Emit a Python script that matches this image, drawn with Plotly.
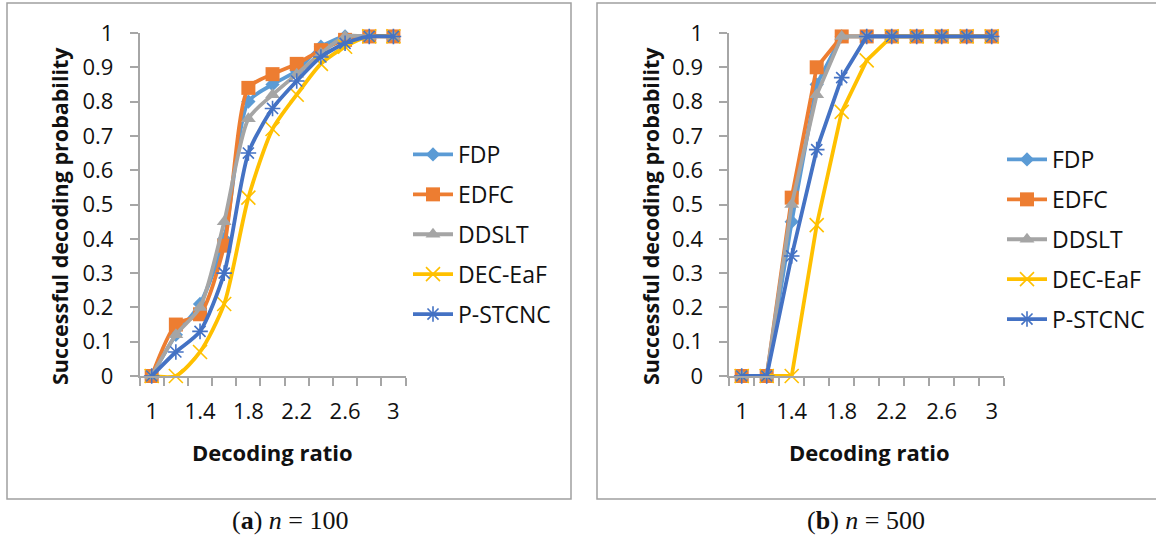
import plotly.graph_objects as go

# ---------------- data ----------------
ratios = [1.0, 1.2, 1.4, 1.6, 1.8, 2.0, 2.2, 2.4, 2.6, 2.8, 3.0]
tick_vals = [1.0, 1.4, 1.8, 2.2, 2.6, 3.0]
tick_text = ["1", "1.4", "1.8", "2.2", "2.6", "3"]
y_tick_vals = [0, 0.1, 0.2, 0.3, 0.4, 0.5, 0.6, 0.7, 0.8, 0.9, 1.0]
y_tick_text = ["0", "0.1", "0.2", "0.3", "0.4", "0.5", "0.6", "0.7", "0.8", "0.9", "1"]
series_names = ["FDP", "EDFC", "DDSLT", "DEC-EaF", "P-STCNC"]

# n = 100
fdp_100 = [0, 0.12, 0.21, 0.40, 0.80, 0.85, 0.89, 0.96, 0.99, 0.99, 0.99]
edfc_100 = [0, 0.15, 0.18, 0.38, 0.84, 0.88, 0.91, 0.95, 0.98, 0.99, 0.99]
ddslt_100 = [0, 0.12, 0.20, 0.45, 0.75, 0.82, 0.88, 0.94, 0.99, 0.99, 0.99]
decaf_100 = [0, 0.0, 0.07, 0.21, 0.52, 0.72, 0.82, 0.91, 0.96, 0.99, 0.99]
pstcnc_100 = [0, 0.07, 0.13, 0.30, 0.65, 0.78, 0.86, 0.93, 0.97, 0.99, 0.99]

# n = 500
fdp_500 = [0, 0, 0.45, 0.85, 0.99, 0.99, 0.99, 0.99, 0.99, 0.99, 0.99]
edfc_500 = [0, 0, 0.52, 0.90, 0.99, 0.99, 0.99, 0.99, 0.99, 0.99, 0.99]
ddslt_500 = [0, 0, 0.50, 0.82, 0.99, 0.99, 0.99, 0.99, 0.99, 0.99, 0.99]
decaf_500 = [0, 0, 0.0, 0.44, 0.77, 0.92, 0.99, 0.99, 0.99, 0.99, 0.99]
pstcnc_500 = [0, 0, 0.35, 0.66, 0.87, 0.99, 0.99, 0.99, 0.99, 0.99, 0.99]

panel_a = [fdp_100, edfc_100, ddslt_100, decaf_100, pstcnc_100]
panel_b = [fdp_500, edfc_500, ddslt_500, decaf_500, pstcnc_500]

# ---------------- styles ----------------
colors = ["#5B9BD5", "#ED7D31", "#A5A5A5", "#FFC000", "#4472C4"]
symbols = ["diamond", "square", "triangle-up", "x-thin", "asterisk"]
msizes = [11, 14, 13, 14, 13]

W, H = 1156, 539
FONT = "Open Sans"
AXIS_GRAY = "#A6A6A6"


def px_x(p):
    return p / W


def px_y(p):
    return 1 - p / H


fig = go.Figure()


def add_panel(data, xa, ya, legend, shape):
    for i, (name, vals) in enumerate(zip(series_names, data)):
        thin = symbols[i] in ("x-thin", "asterisk")
        fig.add_trace(go.Scatter(
            x=ratios, y=vals, name=name, mode="lines+markers",
            xaxis=xa, yaxis=ya, legend=legend,
            legendgroup=legend + name,
            cliponaxis=False,
            line=dict(color=colors[i], width=3.8, shape=shape,
                      smoothing=0.7 if shape == "spline" else None),
            marker=dict(symbol=symbols[i], size=msizes[i], color=colors[i],
                        line=dict(color=colors[i], width=1.6 if thin else 0)),
        ))


add_panel(panel_a, "x", "y", "legend", "spline")
add_panel(panel_b, "x2", "y2", "legend2", "linear")

ydom = [px_y(376), px_y(33)]


def xaxis_cfg(x0, x1):
    return dict(
        domain=[px_x(x0), px_x(x1)], range=[0.9, 3.1],
        tickmode="array", tickvals=tick_vals, ticktext=tick_text,
        ticks="outside", ticklen=8, tickcolor="rgba(0,0,0,0)",
        minor=dict(ticks="outside", tick0=0.9, dtick=0.2, ticklen=8,
                   tickcolor=AXIS_GRAY, tickwidth=1.5, showgrid=False),
        ticklabelstandoff=7,
        showline=True, linecolor=AXIS_GRAY, linewidth=1.5,
        showgrid=False, zeroline=False, fixedrange=True, automargin=False,
        tickfont=dict(family=FONT, size=22, color="#111"),
    )


def yaxis_cfg(anchor):
    return dict(
        domain=ydom, range=[0, 1], anchor=anchor,
        tickmode="array", tickvals=y_tick_vals, ticktext=y_tick_text,
        ticks="outside", ticklen=8, tickcolor=AXIS_GRAY, tickwidth=1.5,
        ticklabelstandoff=12,
        showline=True, linecolor=AXIS_GRAY, linewidth=1.5,
        showgrid=False, zeroline=False, fixedrange=True, automargin=False,
        tickfont=dict(family=FONT, size=22, color="#111"),
    )


fig.update_layout(
    width=W, height=H,
    margin=dict(l=0, r=0, t=0, b=0, autoexpand=False),
    paper_bgcolor="white", plot_bgcolor="white",
    xaxis=dict(anchor="y", **xaxis_cfg(139.6, 405.5)),
    yaxis=yaxis_cfg("x"),
    xaxis2=dict(anchor="y2", **xaxis_cfg(729.2, 1004.2)),
    yaxis2=yaxis_cfg("x2"),
    legend=dict(x=px_x(408), y=px_y(133), xanchor="left", yanchor="top",
                traceorder="grouped", tracegroupgap=7,
                font=dict(family=FONT, size=23, color="#111"),
                bgcolor="rgba(0,0,0,0)", itemwidth=40),
    legend2=dict(x=px_x(1002), y=px_y(138), xanchor="left", yanchor="top",
                 traceorder="grouped", tracegroupgap=7,
                 font=dict(family=FONT, size=23, color="#111"),
                 bgcolor="rgba(0,0,0,0)", itemwidth=40),
    showlegend=True,
)

# panel frames
fig.add_shape(type="rect", xref="paper", yref="paper",
              x0=px_x(7), x1=px_x(571), y0=px_y(499), y1=px_y(3),
              line=dict(color="#A0A0A0", width=1.5), layer="below")
fig.add_shape(type="rect", xref="paper", yref="paper",
              x0=px_x(597), x1=px_x(1162), y0=px_y(499), y1=px_y(3),
              line=dict(color="#A0A0A0", width=1.5), layer="below")

annos = [
    dict(text="<b>Successful decoding probability</b>", x=px_x(59), y=px_y(216),
         textangle=-90, font=dict(family=FONT, size=21.5, color="#111")),
    dict(text="<b>Successful decoding probability</b>", x=px_x(650), y=px_y(216),
         textangle=-90, font=dict(family=FONT, size=21.5, color="#111")),
    dict(text="<b>Decoding ratio</b>", x=px_x(272), y=px_y(452),
         font=dict(family=FONT, size=22, color="#111")),
    dict(text="<b>Decoding ratio</b>", x=px_x(869), y=px_y(452),
         font=dict(family=FONT, size=22, color="#111")),
    dict(text="(<b>a</b>) <i>n</i> = 100", x=px_x(290), y=px_y(520),
         font=dict(family="Liberation Serif", size=26, color="#111")),
    dict(text="(<b>b</b>) <i>n</i> = 500", x=px_x(866), y=px_y(520),
         font=dict(family="Liberation Serif", size=26, color="#111")),
]
for a in annos:
    fig.add_annotation(xref="paper", yref="paper", showarrow=False,
                       xanchor="center", yanchor="middle", **a)

fig.write_html("out.html",
               config={"displayModeBar": False},
               post_script="document.body.style.margin='0';"
                           "document.body.style.overflow='hidden';")
